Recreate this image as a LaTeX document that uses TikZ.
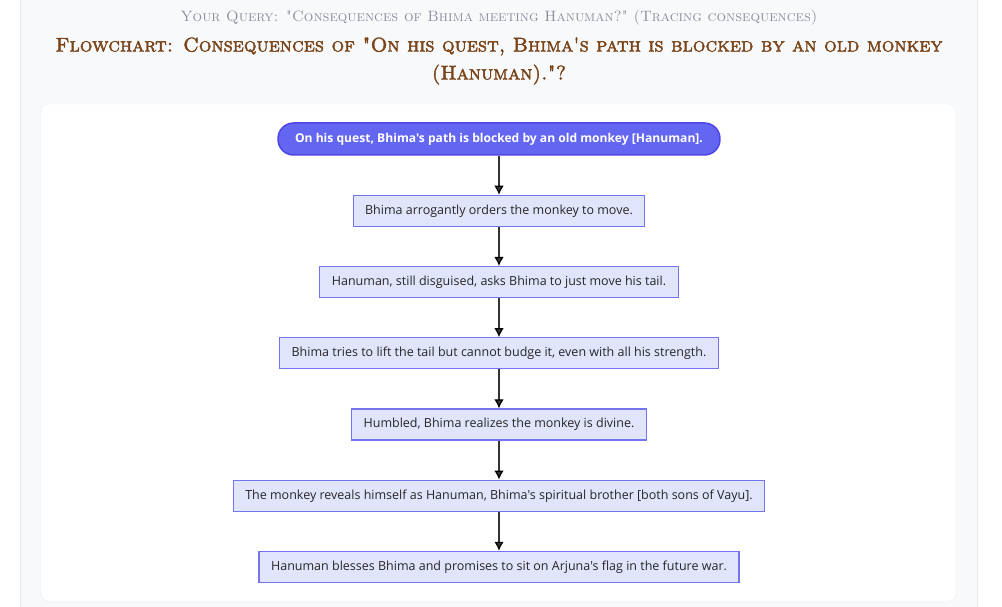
\documentclass[tikz,border=0pt]{standalone}
\usepackage{fontspec}
\usetikzlibrary{positioning,arrows.meta}
\newfontfamily\nodefont{Open Sans}
\newfontfamily\capsfont{lmromancaps10-regular.otf}
\newfontfamily\boldcapsfont{lmromancaps10-regular.otf}[FakeBold=2.2]
\definecolor{cardbg}{HTML}{F8F9FB}
\definecolor{cardline}{HTML}{E4E6EB}
\definecolor{querygray}{HTML}{8A8F9C}
\definecolor{titlebrown}{HTML}{7A4418}
\definecolor{boxfill}{HTML}{E1E5FC}
\definecolor{boxline}{HTML}{7474EE}
\definecolor{startfill}{HTML}{6366F1}
\definecolor{startline}{HTML}{4F46E5}
\definecolor{arrowgray}{HTML}{333333}

\begin{document}
\begin{tikzpicture}[x=1pt,y=-1pt,->,>={Latex[length=9pt,width=9.5pt,color=black]},node distance=39pt,
  event/.style={draw=boxline,fill=boxfill,line width=1.2pt,minimum height=31pt,inner xsep=12pt,
    text height=9.5pt,text depth=2.5pt,font=\nodefont\fontsize{12.5}{14}\selectfont,text=black!85},
  origin/.style={event,draw=startline,fill=startfill,rounded corners=15.5pt,line width=1.5pt,
    minimum height=32pt,inner xsep=17pt,text=white,font=\nodefont\bfseries\fontsize{12.1}{14}\selectfont}]
% page and card
\useasboundingbox (0,0) rectangle (1002,607);
\fill[-,white] (0,0) rectangle (1002,607);
\fill[-,cardbg] (20,0) rectangle (977,607);
\draw[-,cardline,line width=1pt] (20,0) -- (20,607) (977,0) -- (977,607);
\fill[-,black!3,rounded corners=9pt] (40,104) rectangle (957,603);
\filldraw[-,white,draw=black!5,rounded corners=8pt] (41,104) rectangle (956,601);
% titles
\node[querygray,font=\capsfont\fontsize{15}{17}\selectfont] (query) at (499,18)
  {Your Query: "Consequences of Bhima meeting Hanuman?" (Tracing consequences)};
\node[titlebrown,font=\boldcapsfont\fontsize{19.9}{28}\selectfont,align=center] (title) at (499,61)
  {Flowchart: Consequences of "On his quest, Bhima's path is blocked by an old monkey\\(Hanuman)."?};
% flow
\node[origin] (quest) at (499,139) {On his quest, Bhima's path is blocked by an old monkey [Hanuman].};
\node[event] (orders) [below=of quest] {Bhima arrogantly orders the monkey to move.};
\node[event] (tail) [below=of orders] {Hanuman, still disguised, asks Bhima to just move his tail.};
\node[event] (lift) [below=of tail] {Bhima tries to lift the tail but cannot budge it, even with all his strength.};
\node[event] (humbled) [below=of lift] {Humbled, Bhima realizes the monkey is divine.};
\node[event] (reveal) [below=of humbled] {The monkey reveals himself as Hanuman, Bhima's spiritual brother [both sons of Vayu].};
\node[event] (bless) [below=of reveal] {Hanuman blesses Bhima and promises to sit on Arjuna's flag in the future war.};
\path[arrowgray,line width=1.2pt]
      (quest) edge (orders)
      (orders) edge (tail)
      (tail) edge (lift)
      (lift) edge (humbled)
      (humbled) edge (reveal)
      (reveal) edge (bless)
;
\end{tikzpicture}
\end{document}
